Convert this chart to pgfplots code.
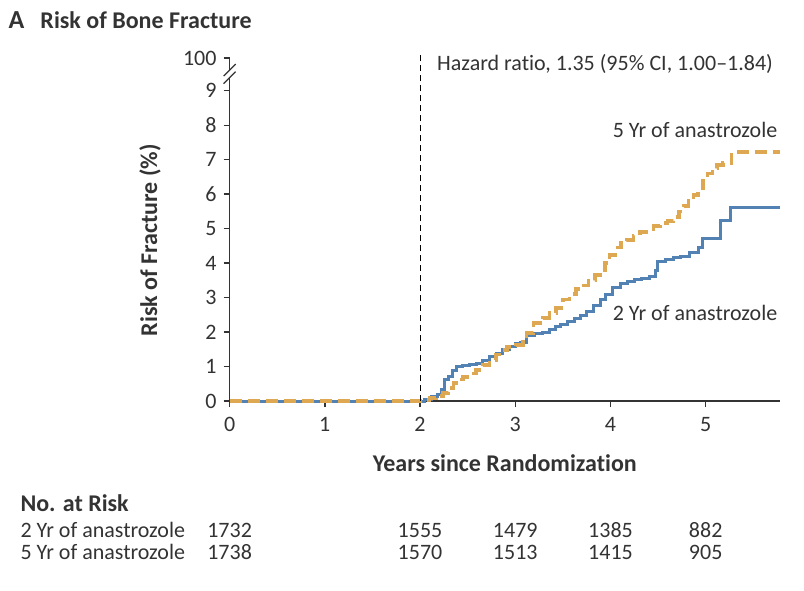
\documentclass[border=0pt]{standalone}
\usepackage{pgfplots}
\pgfplotsset{compat=1.18}
\usepackage{fontspec}
\setmainfont{Carlito}[Ligatures=NoCommon]
\definecolor{kmblue}{HTML}{5281B3}
\definecolor{kmorange}{HTML}{DEA852}
\definecolor{axgray}{HTML}{333333}
\tikzset{nodestyle/.style={inner sep=0pt, text=axgray, font=\fontsize{11}{13}\selectfont}}
\begin{document}
\begin{tikzpicture}
\useasboundingbox (-114.8pt,-94.5pt) rectangle (287.2pt,200.5pt);
\begin{axis}[
  scale only axis, width=275.2pt, height=171.5pt,
  xmin=0, xmax=5.78, ymin=0, ymax=9.95,
  axis lines=left, axis line style={-, draw=axgray, line width=0.7pt},
  tick align=outside, major tick length=3pt,
  tick style={draw=axgray, line width=0.7pt},
  xtick={0,1,2,3,4,5},
  ytick={0,1,2,3,4,5,6,7,8,9,9.95},
  yticklabels={0,1,2,3,4,5,6,7,8,9,100},
  /pgf/number format/assume math mode=true,
  ticklabel style={font=\fontsize{11}{13}\selectfont, text=axgray},
  xticklabel style={yshift=-1.5pt},
  clip=false,
  xlabel={Years since Randomization},
  ylabel={Risk of Fracture (\%)},
  label style={font=\bfseries\fontsize{12}{14}\selectfont, text=axgray},
  xlabel style={at={(axis description cs:0.5,-0.181)}, anchor=center},
  ylabel style={at={(axis description cs:-0.1446,0.469)}, anchor=center},
]
% 2 Yr of anastrozole
\addplot[const plot, kmblue, line width=1.5pt] coordinates {
(0,0) (2.0,0) (2.05,0.05) (2.12,0.12) (2.18,0.2) (2.23,0.32) (2.26,0.61)
(2.3,0.72) (2.34,0.88) (2.38,0.99) (2.45,1.03) (2.52,1.05) (2.59,1.1)
(2.66,1.18) (2.73,1.28) (2.8,1.38) (2.87,1.48) (2.94,1.57) (3.0,1.66)
(3.05,1.71) (3.12,1.91) (3.2,1.96) (3.29,2.0) (3.36,2.08) (3.42,2.15)
(3.47,2.22) (3.55,2.3) (3.62,2.38) (3.68,2.49) (3.75,2.6) (3.82,2.76)
(3.89,2.93) (3.95,3.1) (4.02,3.28) (4.1,3.4) (4.18,3.48) (4.25,3.52)
(4.33,3.56) (4.41,3.62) (4.47,3.8) (4.49,4.05) (4.58,4.1) (4.66,4.15)
(4.73,4.2) (4.83,4.3) (4.92,4.45) (4.97,4.7) (5.15,5.25) (5.26,5.62) (5.78,5.62)
};
% 5 Yr of anastrozole
\addplot[const plot, kmorange, line width=1.8pt, dash pattern=on 6pt off 3pt] coordinates {
(0,0) (2.0,0) (2.03,0.03) (2.1,0.08) (2.17,0.15) (2.24,0.23) (2.3,0.38)
(2.35,0.52) (2.4,0.62) (2.45,0.7) (2.52,0.8) (2.59,0.9) (2.66,1.05)
(2.73,1.19) (2.8,1.35) (2.86,1.48) (2.91,1.57) (3.01,1.62) (3.08,1.8)
(3.12,1.97) (3.19,2.26) (3.29,2.4) (3.36,2.55) (3.43,2.69) (3.5,2.95)
(3.57,3.1) (3.64,3.25) (3.7,3.35) (3.77,3.5) (3.84,3.65) (3.89,3.8)
(3.94,4.0) (3.99,4.23) (4.05,4.45) (4.11,4.6) (4.17,4.67) (4.24,4.8)
(4.31,4.9) (4.38,4.98) (4.45,5.08) (4.52,5.16) (4.6,5.22) (4.66,5.33)
(4.72,5.5) (4.77,5.65) (4.82,5.8) (4.87,5.98) (4.92,6.17) (4.97,6.4)
(5.02,6.6) (5.07,6.75) (5.12,6.84) (5.18,6.9) (5.27,7.22) (5.78,7.22)
};
% vertical reference line
\draw[black, line width=0.5pt, dash pattern=on 3pt off 2pt] (axis cs:2,0) -- (axis cs:2,10.05);
% axis break
\fill[white] ([xshift=-1pt]axis cs:0,9.38) rectangle ([xshift=1pt]axis cs:0,9.6);
\draw[axgray, line width=0.6pt] ([xshift=-3pt,yshift=-3pt]axis cs:0,9.38) -- ([xshift=3pt,yshift=3pt]axis cs:0,9.38);
\draw[axgray, line width=0.6pt] ([xshift=-3pt,yshift=-3pt]axis cs:0,9.6) -- ([xshift=3pt,yshift=3pt]axis cs:0,9.6);
% annotations
\node[nodestyle, anchor=west] at (axis cs:2.176,9.77) {Hazard ratio, 1.35 (95\% CI, 1.00--1.84)};
\node[nodestyle, anchor=east] at (axis cs:5.756,7.86) {5 Yr of anastrozole};
\node[nodestyle, anchor=east] at (axis cs:5.756,2.55) {2 Yr of anastrozole};
% title
\node[anchor=west, inner sep=0pt, text=axgray, font=\bfseries\fontsize{13}{15}\selectfont] at (axis cs:-2.325,11.04) {A};
\node[anchor=west, inner sep=0pt, text=axgray, font=\bfseries\fontsize{12}{14}\selectfont] at (axis cs:-1.99,11.04) {Risk of Bone Fracture};
% number at risk
\node[anchor=west, inner sep=0pt, text=axgray, font=\bfseries\fontsize{12}{14}\selectfont] at (axis cs:-2.2,-2.96) {No. at Risk};
\node[nodestyle, anchor=base west] at (axis cs:-2.2,-3.97) {2 Yr of anastrozole};
\node[nodestyle, anchor=base west] at (axis cs:-2.2,-4.61) {5 Yr of anastrozole};
\node[nodestyle, anchor=base] at (axis cs:0,-3.97) {1732};
\node[nodestyle, anchor=base] at (axis cs:2,-3.97) {1555};
\node[nodestyle, anchor=base] at (axis cs:3,-3.97) {1479};
\node[nodestyle, anchor=base] at (axis cs:4,-3.97) {1385};
\node[nodestyle, anchor=base] at (axis cs:5,-3.97) {882};
\node[nodestyle, anchor=base] at (axis cs:0,-4.61) {1738};
\node[nodestyle, anchor=base] at (axis cs:2,-4.61) {1570};
\node[nodestyle, anchor=base] at (axis cs:3,-4.61) {1513};
\node[nodestyle, anchor=base] at (axis cs:4,-4.61) {1415};
\node[nodestyle, anchor=base] at (axis cs:5,-4.61) {905};
\end{axis}
\end{tikzpicture}
\end{document}
